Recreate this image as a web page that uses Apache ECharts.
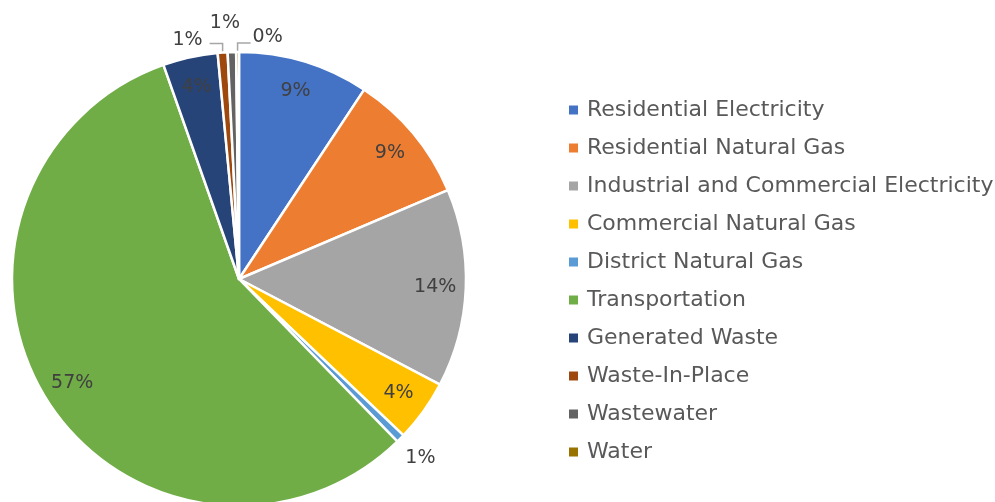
<!DOCTYPE html>
<html>
<head>
<meta charset="utf-8">
<title>Emissions by Sector</title>
<script src="https://cdn.jsdelivr.net/npm/echarts@6/dist/echarts.min.js"></script>
<style>
  html, body { margin: 0; padding: 0; background: #ffffff; }
  #chart { width: 995px; height: 502px; }
</style>
</head>
<body>
<div id="chart"></div>
<script>
// Sector names, in clockwise order starting at twelve o'clock
const categories = [
  'Residential Electricity',
  'Residential Natural Gas',
  'Industrial and Commercial Electricity',
  'Commercial Natural Gas',
  'District Natural Gas',
  'Transportation',
  'Generated Waste',
  'Waste-In-Place',
  'Wastewater',
  'Water'
];

// Share of total emissions (percent)
const shares = [9.3, 9.3, 14.1, 4.4, 0.6, 56.9, 3.9, 0.7, 0.6, 0.2];

// Slice colours
const colors = ['#4472C4', '#ED7D31', '#A5A5A5', '#FFC000', '#5B9BD5',
                '#70AD47', '#264478', '#9E480E', '#636363', '#997300'];

// How each slice's percentage label is placed
const labelPlacement = ['in', 'in', 'in', 'in', 'radial', 'in', 'in', 'bracketLeft', 'above', 'bracketRight'];

const CX = 239, CY = 279, R = 227;
const LABEL_FONT = '"DejaVu Sans", "Open Sans", sans-serif';

const chart = echarts.init(document.getElementById('chart'), null, { renderer: 'canvas' });

const pieData = categories.map((name, i) => {
  const inside = labelPlacement[i] === 'in';
  return {
    name: name,
    value: shares[i],
    itemStyle: { color: colors[i] },
    label: { position: inside ? 'inside' : 'outside' },
    labelLine: {
      show: labelPlacement[i] === 'bracketLeft' || labelPlacement[i] === 'bracketRight',
      length: 10,
      length2: 12
    }
  };
});

// Moves percentage labels to their final spots, relative to each slice
function placeLabel(p) {
  const mode = labelPlacement[p.dataIndex];
  const lr = p.labelRect;
  const mx = lr.x + lr.width / 2, my = lr.y + lr.height / 2;
  if (mode === 'in') {
    // push inside labels out towards the rim
    const dx = mx - CX, dy = my - CY;
    const len = Math.sqrt(dx * dx + dy * dy) || 1;
    const k = (R * 0.865) / len;
    return { x: CX + dx * k, y: CY + dy * k, align: 'center', verticalAlign: 'middle' };
  }
  const pts = p.labelLinePoints;
  if (!pts) return {};
  const rx = pts[0][0], ry = pts[0][1];
  if (mode === 'radial') {
    const dx = rx - CX, dy = ry - CY;
    const len = Math.sqrt(dx * dx + dy * dy) || 1;
    const k = (len + 28) / len;
    return { x: CX + dx * k, y: CY + dy * k, align: 'center', verticalAlign: 'middle' };
  }
  if (mode === 'above') {
    return { x: rx - 7, y: ry - 29, align: 'center', verticalAlign: 'middle' };
  }
  const top = ry - 9;
  if (mode === 'bracketLeft') {
    const ex = rx - 13;
    return {
      x: ex - 7, y: top - 4, align: 'right', verticalAlign: 'middle',
      labelLinePoints: [[rx, ry], [rx, top], [ex, top]]
    };
  }
  // bracketRight
  const ex = rx + 13;
  return {
    x: ex + 2, y: top - 6, align: 'left', verticalAlign: 'middle',
    labelLinePoints: [[rx, ry], [rx, top], [ex, top]]
  };
}

chart.setOption({
  animation: false,
  backgroundColor: '#ffffff',
  legend: {
    orient: 'vertical',
    left: 562,
    top: 94,
    itemWidth: 11,
    itemHeight: 11,
    itemGap: 16,
    icon: 'rect',
    data: categories,
    textStyle: {
      fontFamily: LABEL_FONT,
      fontSize: 22,
      lineHeight: 22,
      color: '#595959',
      padding: [0, 0, 0, 3]
    }
  },
  series: [{
    type: 'pie',
    center: [CX, CY],
    radius: R,
    startAngle: 90,
    clockwise: true,
    avoidLabelOverlap: false,
    data: pieData,
    itemStyle: { borderColor: '#ffffff', borderWidth: 2.5 },
    label: {
      show: true,
      formatter: p => Math.round(p.percent) + '%',
      fontFamily: LABEL_FONT,
      fontSize: 19,
      color: '#404040'
    },
    labelLine: {
      lineStyle: { color: '#A6A6A6', width: 1.5 },
      smooth: false
    },
    labelLayout: placeLabel,
    emphasis: { disabled: true }
  }]
});
</script>
</body>
</html>
